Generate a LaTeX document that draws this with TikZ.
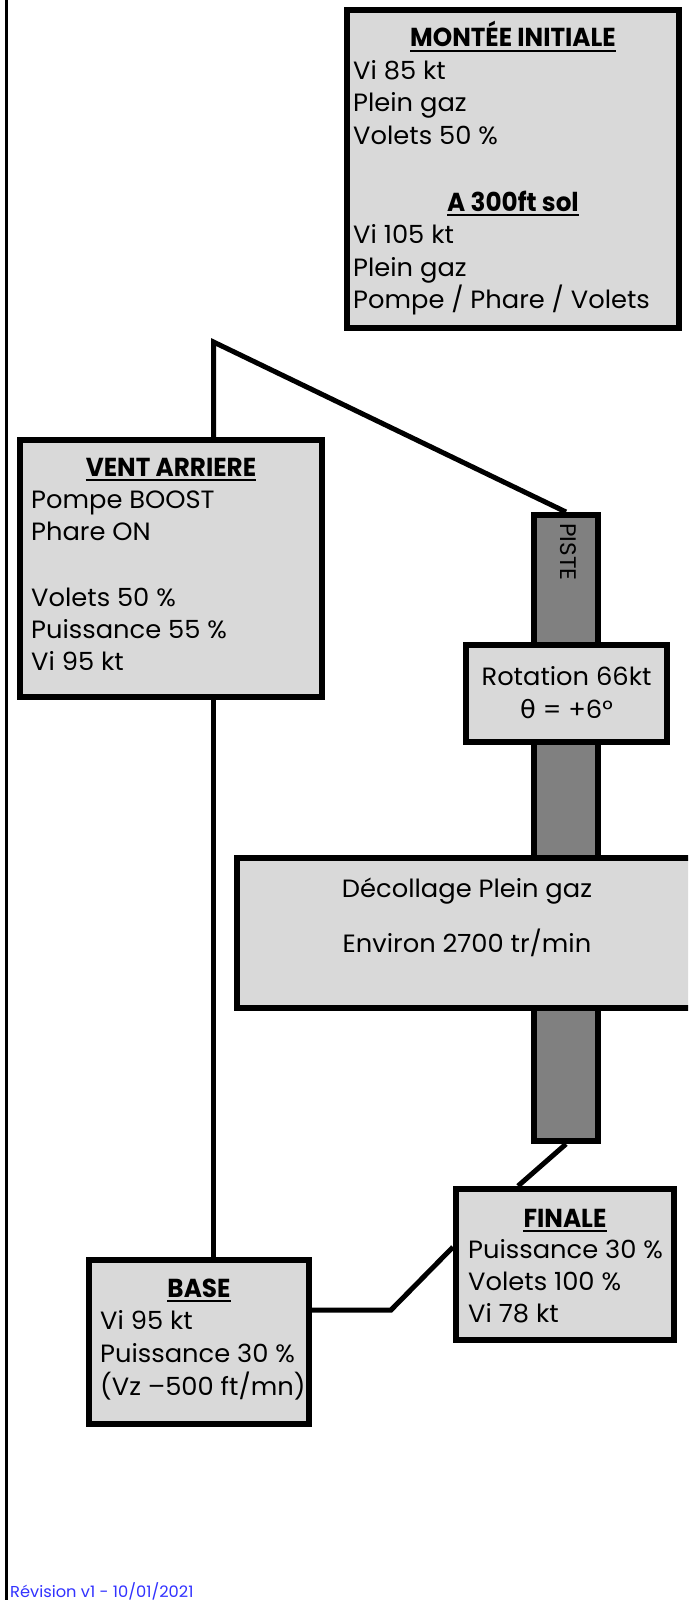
\documentclass[tikz,border=0pt]{standalone}
\usepackage{fontspec}
\setmainfont{Poppins}
\newfontfamily\bodyfont[FakeStretch=1.03]{Poppins}
\newfontfamily\titlefont[FakeStretch=0.95]{Poppins Bold}
\newfontfamily\grkfont[FakeStretch=1.03]{DejaVu Sans}
\definecolor{boxgray}{RGB}{217,217,217}
\definecolor{pistegray}{RGB}{128,128,128}
\definecolor{revblue}{RGB}{50,50,255}
\tikzset{
  box/.style={draw=black, line width=6pt, fill=boxgray, rectangle, inner sep=0pt},
  pistebox/.style={draw=black, line width=6pt, fill=pistegray, rectangle, inner sep=0pt},
  conn/.style={draw=black, line width=5pt},
  txt/.style={anchor=base west, inner sep=0pt, font=\bodyfont\fontsize{25}{25}\selectfont},
  ctxt/.style={anchor=base, inner sep=0pt, font=\bodyfont\fontsize{25}{25}\selectfont},
  ttl/.style={anchor=base, inner sep=0pt, font=\titlefont\fontsize{26}{26}\selectfont},
  uline/.style={draw=black, line width=2.5pt}
}
\begin{document}
\begin{tikzpicture}[x=1pt, y=-1pt]
\useasboundingbox (0,0) rectangle (688,1600);
\begin{scope}
\clip (0,0) rectangle (688,1600);
\fill[white] (0,0) rectangle (688,1600);
% left margin rule
\draw[line width=3pt] (6.5,0) -- (6.5,1600);

% piste (drawn first, under the boxes)
\node[pistebox, minimum width=64pt, minimum height=626pt] (piste) at (566,828) {};
\node[rotate=-90, inner sep=0pt, font=\bodyfont\fontsize{22.5}{22.5}\selectfont] (pistelbl) at (568,552) {PISTE};

% boxes
\node[box, minimum width=332pt, minimum height=318pt] (mont) at (513,169) {};
\node[box, minimum width=302pt, minimum height=257pt] (vent) at (171,568.5) {};
\node[box, minimum width=201pt, minimum height=97pt] (rot) at (566.5,693.5) {};
\node[box, minimum width=483pt, minimum height=150pt] (deco) at (478.5,933) {};
\node[box, minimum width=218pt, minimum height=151pt] (finale) at (565,1264.5) {};
\node[box, minimum width=220pt, minimum height=164pt] (base) at (199,1342) {};

% connectors
\coordinate (apex) at (213.5,342);
\coordinate (fa) at (518,1189);
\coordinate (bend) at (391,1310);
\coordinate (fw) at (456,1247);
\draw[conn, line join=miter] (vent.north -| apex) -- (apex) -- (piste.north);
\draw[conn] (vent.south -| apex) -- (base.north -| apex);
\draw[conn] (piste.south) -- (finale.north -| fa);
\draw[conn] (base.east |- bend) -- (bend) -- (finale.west |- fw);

% MONTEE INITIALE
\node[ttl] (t1) at (513,47) {MONTÉE INITIALE};
\draw[uline] ([yshift=-4pt]t1.base west) -- ([yshift=-4pt]t1.base east);
\node[txt] (m1) at (353,80) {Vi 85 kt};
\node[txt] (m2) at (353,112) {Plein gaz};
\node[txt] (m3) at (353,145) {Volets 50 \%};
\node[ttl] (t2) at (513,211) {A 300ft sol};
\draw[uline] ([yshift=-4pt]t2.base west) -- ([yshift=-4pt]t2.base east);
\node[txt] (m4) at (353,243) {Vi 105 kt};
\node[txt] (m5) at (353,276) {Plein gaz};
\node[txt] (m6) at (353,308) {Pompe / Phare / Volets};

% VENT ARRIERE
\node[ttl] (t3) at (171,476) {VENT ARRIERE};
\draw[uline] ([yshift=-4pt]t3.base west) -- ([yshift=-4pt]t3.base east);
\node[txt] (v1) at (31,508) {Pompe BOOST};
\node[txt] (v2) at (31,540) {Phare ON};
\node[txt] (v3) at (31,606) {Volets 50 \%};
\node[txt] (v4) at (31,638) {Puissance 55 \%};
\node[txt] (v5) at (31,670) {Vi 95 kt};

% Rotation
\node[ctxt] (r1) at (566.5,685) {Rotation 66kt};
\node[ctxt] (r2) at (566.5,718) {{\grkfont θ} = +6°};

% Decollage
\node[ctxt] (d1) at (467,897) {Décollage Plein gaz};
\node[ctxt] (d2) at (467,952) {Environ 2700 tr/min};

% FINALE
\node[ttl] (t4) at (565,1227) {FINALE};
\draw[uline] ([yshift=-4pt]t4.base west) -- ([yshift=-4pt]t4.base east);
\node[txt] (f1) at (468,1258) {Puissance 30 \%};
\node[txt] (f2) at (468,1290) {Volets 100 \%};
\node[txt] (f3) at (468,1322) {Vi 78 kt};

% BASE
\node[ttl] (t5) at (199,1297) {BASE};
\draw[uline] ([yshift=-4pt]t5.base west) -- ([yshift=-4pt]t5.base east);
\node[txt] (b1) at (100,1329) {Vi 95 kt};
\node[txt] (b2) at (100,1362) {Puissance 30 \%};
\node[txt] (b3) at (100,1395) {(Vz –500 ft/mn)};

% revision
\node[anchor=base west, inner sep=0pt, text=revblue, font=\bodyfont\fontsize{15.8}{15.8}\selectfont] (rev) at (10,1597) {Révision v1 - 10/01/2021};
\end{scope}
\end{tikzpicture}
\end{document}
